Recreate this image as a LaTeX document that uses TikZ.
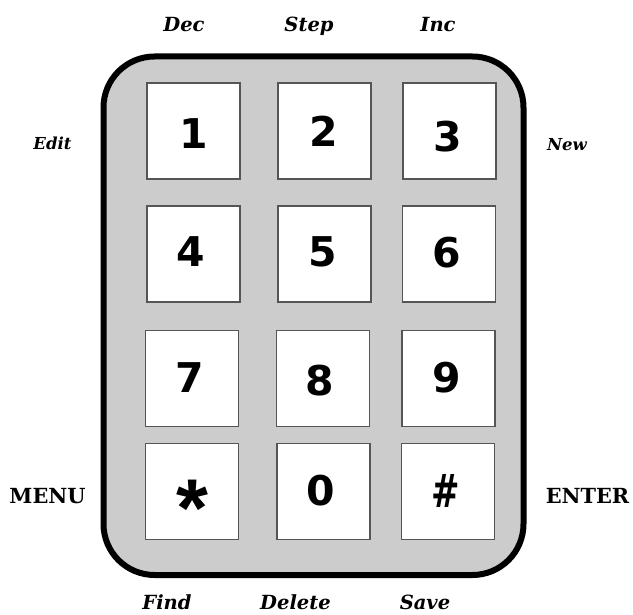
\documentclass[tikz,border=0pt]{standalone}
\usepackage{fontspec}
\newfontfamily\labfont{DejaVu Serif}
\newfontfamily\digfont{DejaVu Sans}
\newfontfamily\arialfont{Liberation Sans}
\definecolor{casegray}{HTML}{CCCCCC}
\definecolor{keyedge}{HTML}{555555}
\tikzset{
  case/.style={draw=black, line width=6pt, fill=casegray, rounded corners=51pt,
    minimum width=420pt, minimum height=518.5pt, inner sep=0pt, outer sep=0pt},
  keybox/.style={draw=keyedge, line width=1.1pt, fill=white,
    minimum width=93pt, minimum height=96pt, inner sep=0pt, outer sep=0pt},
  digit/.style={inner sep=0pt, font=\digfont\bfseries\fontsize{41}{41}\selectfont},
  symb/.style={inner sep=0pt, anchor=base, font=\arialfont\bfseries\fontsize{41}{41}\selectfont},
  toplab/.style={inner sep=0pt, anchor=base, font=\labfont\bfseries\itshape\fontsize{19.5}{20}\selectfont},
  sidelab/.style={inner sep=0pt, anchor=base, font=\labfont\bfseries\itshape\fontsize{16.5}{17}\selectfont},
  biglab/.style={inner sep=0pt, anchor=base, font=\labfont\bfseries\fontsize{20.8}{21}\selectfont}
}
\begin{document}
\begin{tikzpicture}[x=1pt,y=-1pt]
\useasboundingbox (0,0) rectangle (633,615);
\node[case] (case) at (313.5,315.75) {};
% keys
\node[keybox] (k1) at (193.5,131) {};
\node[keybox] (k2) at (324.5,131) {};
\node[keybox] (k3) at (449.5,131) {};
\node[keybox] (k4) at (193.5,254) {};
\node[keybox] (k5) at (324.5,254) {};
\node[keybox] (k6) at (449,254) {};
\node[keybox] (k7) at (192,378.5) {};
\node[keybox] (k8) at (323,378.5) {};
\node[keybox] (k9) at (448.5,378.5) {};
\node[keybox] (kstar) at (192,491.5) {};
\node[keybox] (k0) at (323.5,491.5) {};
\node[keybox] (khash) at (448,491.5) {};
% digits
\node[digit] (d1) at (193.5,134) {1};
\node[digit] (d2) at (324,131.5) {2};
\node[digit] (d3) at (447.5,136.5) {3};
\node[digit] (d4) at (190.5,251.5) {4};
\node[digit] (d5) at (323,251.5) {5};
\node[digit] (d6) at (447,253) {6};
\node[digit] (d7) at (190,378) {7};
\node[digit] (d8) at (319.5,380.5) {8};
\node[digit] (d9) at (447,378) {9};
\node[digit] (d0) at (321,491) {0};
\node[digit, font=\digfont\bfseries\fontsize{46}{46}\selectfont] (dhash) at (446,491) {\scalebox{0.74}[1]{\#}};
\node[symb, font=\arialfont\bfseries\fontsize{82}{82}\selectfont] (dstar) at (192,536) {*};
% labels
\node[toplab] (dec) at (184,31.5) {Dec};
\node[toplab] (step) at (309,31.5) {Step};
\node[toplab] (inc) at (438,31.5) {Inc};
\node[sidelab] (edit) at (52.5,150) {Edit};
\node[sidelab] (new) at (567,151) {New};
\node[biglab] (menu) at (47.5,503) {MENU};
\node[biglab] (enter) at (587.5,503) {ENTER};
\node[toplab] (find) at (167,609.5) {Find};
\node[toplab] (delete) at (295.5,609.5) {Delete};
\node[toplab] (save) at (425,609.5) {Save};
\end{tikzpicture}
\end{document}
